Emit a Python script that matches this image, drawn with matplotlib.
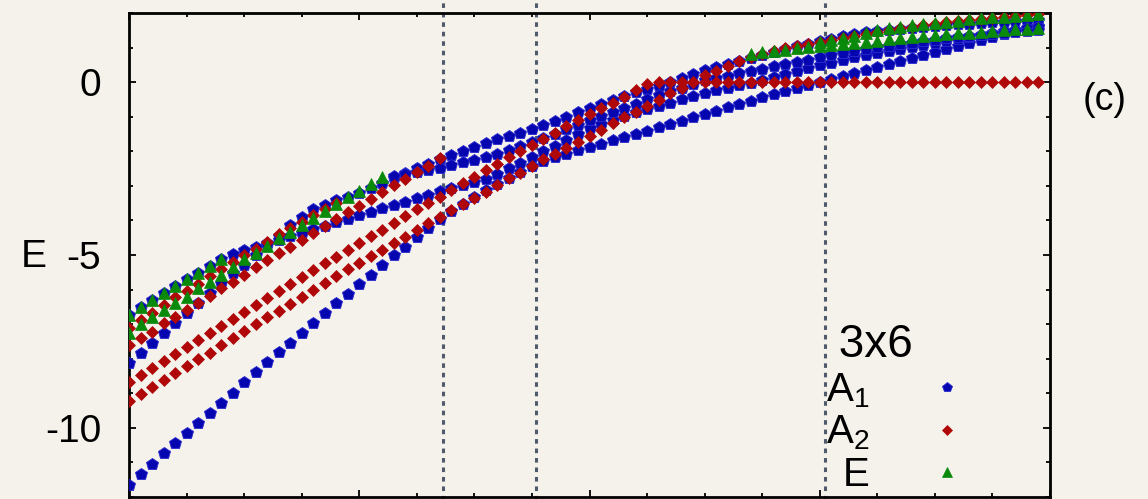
import numpy as np
import matplotlib
matplotlib.use("Agg")
import matplotlib.pyplot as plt
from matplotlib.ticker import MultipleLocator, NullFormatter
from matplotlib.lines import Line2D

plt.rcParams['font.family'] = ['Liberation Sans', 'DejaVu Sans']
plt.rcParams['mathtext.fontset'] = 'custom'
plt.rcParams['mathtext.rm'] = 'Liberation Sans'

nan = float('nan')
x_step = 0.05
n_points = 80
x = np.round(np.arange(n_points) * x_step, 2)

# ---- A1 levels (blue) ----
A1_1 = [-11.65, -11.33, -11.04, -10.72, -10.43, -10.14, -9.86, -9.57, -9.28, -8.99,
        -8.67, -8.38, -8.09, -7.80, -7.54, -7.25, -6.97, -6.68, -6.39, -6.13,
        -5.84, -5.58, -5.29, -5.00, -4.77, -4.48, -4.22, -3.96, -3.73, -3.53,
        -3.32, -3.12, -2.95, -2.77, -2.60, -2.43, -2.28, -2.17, -2.08, -1.97,
        -1.88, -1.79, -1.68, -1.59, -1.50, -1.42, -1.30, -1.21, -1.13, -1.01,
        -0.92, -0.84, -0.72, -0.64, -0.55, -0.43, -0.35, -0.26, -0.17, -0.09,
        0.00, 0.09, 0.17, 0.26, 0.35, 0.43, 0.52, 0.61, 0.69, 0.78,
        0.87, 0.95, 1.04, 1.13, 1.21, 1.30, 1.39, 1.47, 1.56, 1.62]
A1_1_start = 0
A1_2 = [-8.12, -7.83, -7.54, -7.25, -6.97, -6.68, -6.39, -6.10, -5.81, -5.52,
        -5.29, -5.00, -4.71, -4.45, -4.13, -3.90, -3.67, -3.55, -3.41, -3.32,
        -3.21, -3.06, -2.92, -2.77, -2.63, -2.49, -2.37, -2.23, -2.11, -1.99,
        -1.88, -1.76, -1.65, -1.56, -1.47, -1.36, -1.24, -1.13, -1.01, -0.87,
        -0.75, -0.64, -0.52, -0.40, -0.29, -0.20, -0.12, 0.00, 0.12, 0.23,
        0.35, 0.43, 0.52, 0.61, 0.69, 0.78, 0.87, 0.95, 1.04, 1.10,
        1.18, 1.24, 1.33, 1.39, 1.45, 1.47, 1.50, 1.53, 1.56, 1.59,
        1.62, 1.65, 1.68, 1.68, 1.71, 1.73, 1.73, 1.76, 1.76, 1.79]
A1_2_start = 0
A1_3 = [-6.73, -6.50, -6.30, -6.10, -5.90, -5.69, -5.52, -5.32, -5.12, -4.97,
        -4.86, -4.77, -4.65, -4.57, -4.45, -4.36, -4.25, -4.16, -4.05, -3.96,
        -3.84, -3.76, -3.64, -3.55, -3.47, -3.35, -3.27, -3.15, -3.06, -2.98,
        -2.89, -2.80, -2.66, -2.49, -2.34, -2.17, -1.99, -1.85, -1.68, -1.50,
        -1.33, -1.21, -1.10, -0.98, -0.87, -0.78, -0.69, -0.61, -0.49, -0.40,
        -0.32, -0.23, -0.17, -0.09, -0.03, 0.06, 0.14, 0.23, 0.32, 0.40,
        0.49, 0.55, 0.64, 0.72, 0.78, 0.84, 0.90, 0.95, 1.01, 1.07,
        1.13, 1.18, 1.24, 1.30, 1.36, 1.42, 1.47, 1.50, 1.56, 1.59]
A1_3_start = 0
A1_4 = [-2.72, -2.66, -2.60, -2.54, -2.49, -2.40, -2.31,
        -2.25, -2.17, -2.08, -1.97, -1.85, -1.73, -1.62, -1.50, -1.36, -1.24,
        -1.10, -0.98, -0.87, -0.75, -0.64, -0.49, -0.38, -0.26, -0.17, -0.06,
        0.06, 0.12, 0.17, 0.26, 0.32, 0.38, 0.46, 0.52, 0.58, 0.64,
        0.72, 0.78, 0.84, 0.90, 0.95, 1.01, 1.04, 1.10, 1.13, 1.18,
        1.21, 1.27, 1.30, 1.33, 1.36, 1.39, 1.42, 1.45, 1.47, 1.50]
A1_4_start = 23

# ---- A2 levels (red) ----
A2_1 = [-7.11, -6.88, -6.68, -6.45, -6.21, -6.04, -5.84, -5.61, -5.40, -5.20,
        -5.00, -4.83, -4.62, -4.39, -4.22, -4.05, -3.84, -3.67, -3.50]
A2_1_start = 0
A2_2 = [-7.60, -7.40, -7.23, -6.97, -6.79, -6.59, -6.39, -6.18, -5.95, -5.78,
        -5.58, -5.35, -5.14, -4.94, -4.77, -4.57, -4.36, -4.16, -3.96, -3.76,
        -3.58, -3.38, -3.18, -2.98, -2.80, -2.60, -2.43, -2.20]
A2_2_start = 0
A2_3 = [-8.67, -8.47, -8.27, -8.06, -7.86, -7.66, -7.46, -7.25, -7.05, -6.85,
        -6.65, -6.45, -6.24, -6.04, -5.84, -5.64, -5.43, -5.23, -5.06, -4.86,
        -4.65, -4.45, -4.28, -4.08, -3.87, -3.67, -3.50, -3.32, -3.12, -2.92,
        -2.75, -2.54, -2.37, -2.17, -1.99, -1.82, -1.65, -1.47, -1.27, -1.10,
        -0.92, -0.75, -0.61, -0.43, -0.23, -0.06, 0.00, 0.00, 0.00, 0.00,
        0.00, 0.00, 0.00, 0.00, 0.00, 0.00, 0.00, 0.00, 0.00, 0.00,
        0.00, 0.00, 0.00, 0.00, 0.00, 0.00, 0.00, 0.00, 0.00, 0.00,
        0.00, 0.00, 0.00, 0.00, 0.00, 0.00, 0.00, 0.00, 0.00, 0.00]
A2_3_start = 0
A2_4 = [-9.22, -9.02, -8.82, -8.61, -8.41, -8.21, -8.01, -7.83, -7.60, -7.40,
        -7.20, -6.99, -6.79, -6.62, -6.42, -6.21, -6.01, -5.81, -5.61, -5.40,
        -5.23, -5.03, -4.86, -4.65, -4.48, -4.28, -4.08, -3.90, -3.70, -3.53,
        -3.35, -3.18, -2.98, -2.77, -2.63, -2.43, -2.23, -2.08, -1.91, -1.73,
        -1.56, -1.39, -1.18, -1.01, -0.87, -0.69, -0.52, -0.32, -0.17, 0.00,
        0.20, 0.32, 0.46, 0.62, 0.72, 0.82, 0.90, 0.98, 1.04, 1.10,
        1.16, 1.21, 1.27, 1.33, 1.39, 1.45, 1.50, 1.56, 1.59, 1.65,
        1.68, 1.73, 1.76, 1.79, 1.82, 1.85, 1.88, 1.91, 1.94, 1.97]
A2_4_start = 0

# ---- E levels (green) ----
E_1 = [-6.73, -6.50, -6.30, -6.10, -5.90, -5.69, -5.52, -5.32, -5.12]
E_1_start = 0
E_2 = [-7.25, -6.99, -6.79, -6.59, -6.39, -6.21, -5.95, -5.78, -5.58, -5.35,
       -5.12, -4.94, -4.74, -4.51, -4.34, -4.13, -3.93, -3.73, -3.53, -3.32,
       -3.15, -2.95, -2.75]
E_2_start = 0
E_3 = [0.81, 0.87, 0.90, 0.92, 0.98, 1.01, 1.04, 1.07, 1.10, 1.13,
       1.16, 1.18, 1.24, 1.27, 1.30, 1.33, 1.36, 1.39, 1.42, 1.42,
       1.45, 1.47, 1.50, 1.53, 1.53, 1.56]
E_3_start = 54
E_4 = [1.16, 1.21, 1.27, 1.33, 1.42, 1.50, 1.56, 1.59, 1.65, 1.68,
       1.71, 1.73, 1.76, 1.82, 1.85, 1.88, 1.88, 1.91, 1.94, 1.97]
E_4_start = 60

vlines_x = [1.364, 1.768, 3.023]
ytick_vals = [-10, -5, 0]
ytick_labels = ['-10', '-5', '0']
legend_title = ' 3x6'
labels = [r'$\mathregular{A_1}$', r'$\mathregular{A_2}$', 'E']

bg = '#f5f2eb'
c_blue = '#0606b0'
c_red = '#b00808'
c_green = '#0a8a0a'

fig = plt.figure(figsize=(11.48, 4.99), dpi=100, facecolor=bg)
ax = fig.add_axes([129 / 1148, 2 / 499, 921 / 1148, 484 / 499])
ax.set_facecolor(bg)

def seg(vals, start):
    return x[start:start + len(vals)], np.array(vals)

blue_kw = dict(ls='none', marker='p', ms=8.8, color=c_blue, mec='#2a2ad0', mew=0.6)
red_kw = dict(ls='none', marker='D', ms=6.1, color=c_red, mec=c_red, mew=0.5)
green_kw = dict(ls='none', marker='^', ms=8.8, color=c_green, mec=c_green, mew=0.5)

for vals, st in [(A1_1, A1_1_start), (A1_2, A1_2_start), (A1_3, A1_3_start), (A1_4, A1_4_start)]:
    xs, ys = seg(vals, st)
    ax.plot(xs, ys, zorder=3, **blue_kw)
for vals, st in [(A2_1, A2_1_start), (A2_2, A2_2_start), (A2_3, A2_3_start), (A2_4, A2_4_start)]:
    xs, ys = seg(vals, st)
    ax.plot(xs, ys, zorder=4, **red_kw)
for vals, st in [(E_1, E_1_start), (E_2, E_2_start), (E_3, E_3_start), (E_4, E_4_start)]:
    xs, ys = seg(vals, st)
    ax.plot(xs, ys, zorder=5, **green_kw)

for xv in vlines_x:
    ax.axvline(xv, ymin=-0.02, ymax=1.03, color='#4f5a6c', lw=2.2,
               dashes=(1.5, 1.6), clip_on=False, zorder=2)

ax.set_xlim(0, 4)
ax.set_ylim(-12, 2)
ax.xaxis.set_major_locator(MultipleLocator(1))
ax.xaxis.set_minor_locator(MultipleLocator(0.25))
ax.xaxis.set_major_formatter(NullFormatter())
ax.set_yticks(ytick_vals)
ax.set_yticklabels(ytick_labels)
ax.yaxis.set_minor_locator(MultipleLocator(1))
ax.tick_params(which='both', direction='in', top=True, right=True, width=1.3, colors='black')
ax.tick_params(which='major', length=5, labelsize=28, pad=20)
ax.tick_params(which='minor', length=3)
for s in ax.spines.values():
    s.set_linewidth(2)

fig.text(34 / 1148, 1 - 257 / 499, 'E', fontsize=28, ha='center', va='center')
fig.text(1105 / 1148, 1 - 100 / 499, '(c)', fontsize=27, ha='center', va='center')

handles = [Line2D([], [], **blue_kw), Line2D([], [], **red_kw), Line2D([], [], **green_kw)]
for h in handles:
    h.set_markersize(h.get_markersize() * 0.78)
leg = ax.legend(handles, labels, title=legend_title, loc='lower right',
                bbox_to_anchor=(0.923, -0.036), frameon=False, markerfirst=False,
                fontsize=29, title_fontsize=33, handlelength=0.6, handletextpad=1.63,
                labelspacing=0.1, borderpad=0.0, alignment='left')

fig.savefig('out.png', dpi=100, facecolor=bg)
